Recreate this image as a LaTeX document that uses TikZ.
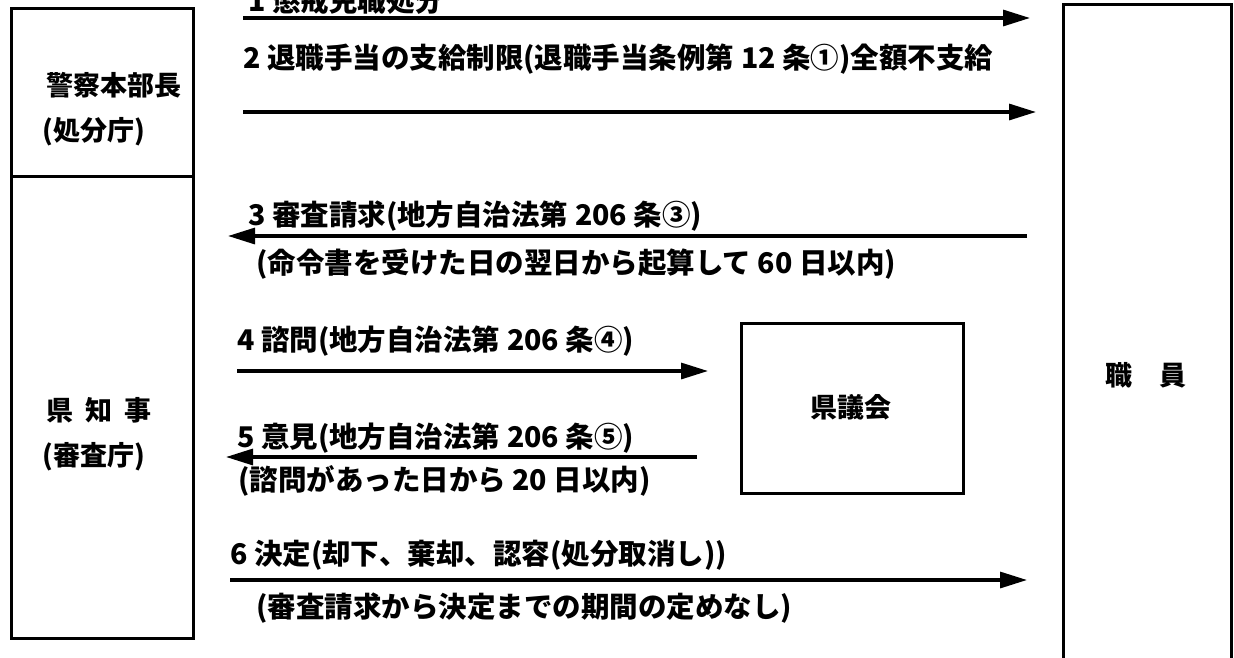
\documentclass[tikz,border=0pt]{standalone}
\usepackage{fontspec}
\setmainfont{Noto Sans CJK JP}
\usetikzlibrary{arrows.meta}
\begin{document}
\begin{tikzpicture}[x=1pt,y=-1pt,
  lbl/.style={font=\fontsize{27}{30}\selectfont\bfseries, anchor=base west, inner sep=0pt},
  albl/.style={font=\fontsize{28.5}{31}\selectfont\bfseries, anchor=base west, inner sep=0pt},
  box/.style={draw, line width=2.6pt, inner sep=0pt, anchor=north west},
  arr/.style={line width=3.2pt, -{Triangle[length=27pt,width=16pt]}}]
\useasboundingbox (0,0) rectangle (1234,657);
\clip (0,0) rectangle (1234,657);
% boxes
\node[box, minimum width=182pt, minimum height=168pt] (keisatsu) at (10,7) {};
\node[box, minimum width=182pt, minimum height=462pt] (chiji) at (10,175) {};
\node[box, minimum width=168pt, minimum height=700pt] (shokuin) at (1062,3) {};
\node[box, minimum width=222pt, minimum height=170pt] (gikai) at (740,322) {};
% box labels
\node[lbl] (k1) at (46,95) {警察本部長};
\node[lbl] (k2) at (42,140) {(処分庁)};
\node[lbl] (c1) at (46,420) {県\hspace{0.45em}知\hspace{0.45em}事};
\node[lbl] (c2) at (42,465) {(審査庁)};
\node[lbl, anchor=base] (s1) at (1146,385) {職　員};
\node[lbl, anchor=base] (g1) at (851,417) {県議会};
% arrow end points
\coordinate (a1s) at (243,18);  \coordinate (a1e) at (1030,18);
\coordinate (a2s) at (243,112); \coordinate (a2e) at (1036,112);
\coordinate (a3s) at (1027,236); \coordinate (a3e) at (228,236);
\coordinate (a4s) at (237,371); \coordinate (a4e) at (708,371);
\coordinate (a5s) at (697,457); \coordinate (a5e) at (226,457);
\coordinate (a6s) at (230,580); \coordinate (a6e) at (1027,580);
\draw[arr] (a1s) -- (a1e);
\draw[arr] (a2s) -- (a2e);
\draw[arr] (a3s) -- (a3e);
\draw[arr] (a4s) -- (a4e);
\draw[arr] (a5s) -- (a5e);
\draw[arr] (a6s) -- (a6e);
% arrow labels
\node[albl] (t1) at (248,11) {1 懲戒免職処分};
\node[albl] (t2) at (243,68) {2 退職手当の支給制限(退職手当条例第 12 条①)全額不支給};
\node[albl] (t3) at (248,225) {3 審査請求(地方自治法第 206 条③)};
\node[albl] (t3b) at (256,273) {(命令書を受けた日の翌日から起算して 60 日以内)};
\node[albl] (t4) at (237,350) {4 諮問(地方自治法第 206 条④)};
\node[albl] (t5) at (237,447) {5 意見(地方自治法第 206 条⑤)};
\node[albl] (t5b) at (238,490) {(諮問があった日から 20 日以内)};
\node[albl] (t6) at (230,564) {6 決定(却下、棄却、認容(処分取消し))};
\node[albl] (t6b) at (256,617) {(審査請求から決定までの期間の定めなし)};
\end{tikzpicture}
\end{document}
